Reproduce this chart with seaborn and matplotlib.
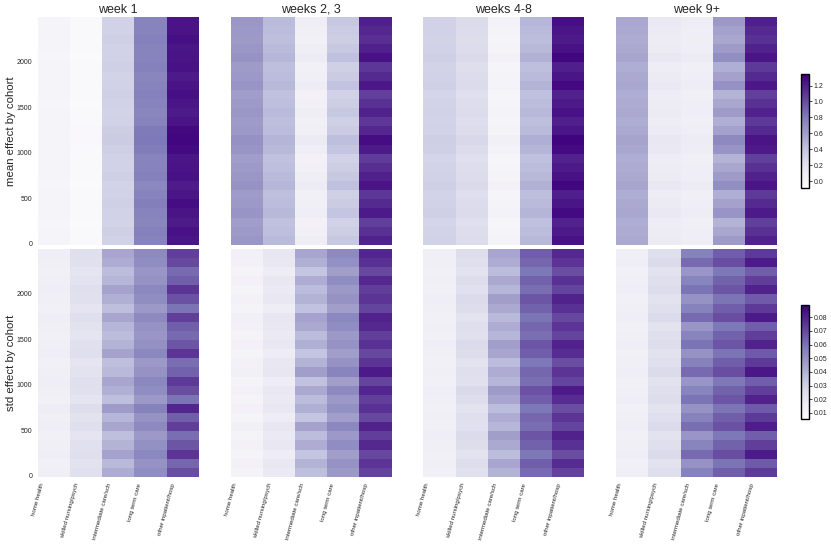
import numpy as np
import pandas as pd
import matplotlib
matplotlib.use("Agg")
import matplotlib.pyplot as plt
import seaborn as sns

# care types (heatmap columns) and time periods (panel columns)
care_types = ["home health", "skilled nursing/psych", "intermediate care/sch",
              "long term care", "other inpatient/hosp"]
periods = ["week 1", "weeks 2, 3", "weeks 4-8", "week 9+"]
cohort_step = 100  # each row of values covers 100 cohorts, listed bottom -> top
y_ticks = [0, 500, 1000, 1500, 2000]

# mean effect by cohort, in hundredths (one list per care type)
mean_week1 = [
    [0, 0, -1, 0, 0, 0, -1, 0, 0, 0, 0, 1, 1, 0, 0, -1, 0, 0, 0, 0, -1, 0, 0, 0, 1],
    [-5, -5, -6, -5, -5, -5, -6, -5, -5, -5, -5, -4, -4, -5, -5, -6, -5, -5, -5, -5, -6, -5, -5, -5, -5],
    [32, 33, 31, 32, 33, 32, 31, 33, 32, 32, 34, 36, 35, 32, 31, 32, 33, 32, 31, 33, 32, 32, 33, 32, 32],
    [76, 78, 75, 77, 79, 76, 74, 78, 77, 76, 80, 82, 81, 77, 75, 76, 78, 77, 75, 78, 77, 76, 78, 77, 77],
    [124, 126, 122, 125, 128, 124, 121, 126, 125, 124, 129, 131, 130, 125, 122, 124, 127, 125, 122, 126, 125, 124, 127, 125, 125],
]
mean_weeks23 = [
    [65, 63, 61, 66, 64, 62, 67, 65, 63, 61, 66, 68, 64, 62, 65, 63, 61, 66, 64, 62, 67, 65, 63, 64, 65],
    [46, 44, 42, 47, 45, 43, 48, 46, 44, 42, 47, 49, 45, 43, 46, 44, 42, 47, 45, 43, 48, 46, 44, 45, 46],
    [8, 6, 4, 9, 7, 5, 11, 8, 6, 4, 9, 12, 7, 5, 8, 6, 4, 10, 7, 5, 11, 8, 6, 7, 9],
    [38, 35, 32, 40, 36, 33, 42, 38, 35, 32, 40, 43, 36, 33, 38, 35, 32, 41, 36, 33, 42, 38, 35, 36, 39],
    [118, 112, 106, 122, 115, 109, 125, 119, 113, 107, 122, 128, 116, 109, 118, 112, 106, 123, 115, 109, 126, 119, 113, 116, 120],
]
mean_weeks48 = [
    [32, 31, 30, 33, 32, 31, 33, 32, 31, 30, 33, 34, 32, 31, 32, 31, 30, 33, 32, 31, 33, 32, 31, 32, 32],
    [25, 24, 22, 26, 25, 23, 27, 25, 24, 22, 26, 28, 25, 23, 25, 24, 22, 26, 25, 23, 27, 25, 24, 25, 26],
    [2, 1, -1, 3, 2, 0, 4, 2, 1, -1, 3, 5, 2, 0, 2, 1, -1, 3, 2, 0, 4, 2, 1, 2, 3],
    [47, 45, 42, 49, 46, 43, 51, 47, 45, 42, 49, 52, 46, 43, 47, 45, 42, 50, 46, 43, 51, 47, 45, 46, 48],
    [126, 122, 118, 129, 124, 120, 131, 126, 122, 118, 129, 132, 124, 120, 126, 122, 118, 130, 124, 120, 131, 126, 122, 124, 127],
]
mean_week9 = [
    [55, 54, 53, 56, 55, 53, 57, 55, 54, 53, 56, 58, 55, 53, 55, 54, 53, 56, 55, 53, 57, 55, 54, 55, 56],
    [12, 11, 10, 13, 12, 10, 14, 12, 11, 10, 13, 14, 12, 10, 12, 11, 10, 13, 12, 10, 14, 12, 11, 12, 13],
    [9, 8, 7, 10, 9, 7, 11, 9, 8, 7, 10, 11, 9, 7, 9, 8, 7, 10, 9, 7, 11, 9, 8, 9, 10],
    [62, 56, 50, 66, 59, 52, 70, 62, 56, 50, 66, 72, 59, 52, 62, 56, 50, 68, 59, 52, 70, 62, 56, 59, 64],
    [118, 112, 105, 122, 115, 108, 124, 118, 112, 105, 122, 125, 115, 108, 118, 112, 105, 123, 115, 108, 124, 118, 112, 115, 120],
]

# std effect by cohort, in thousandths
std_week1 = [
    [15, 14, 16, 15, 14, 16, 15, 17, 14, 15, 16, 15, 14, 16, 15, 14, 15, 16, 14, 15, 16, 15, 14, 15, 16],
    [23, 22, 24, 23, 21, 24, 22, 25, 21, 23, 24, 22, 21, 24, 23, 21, 22, 24, 21, 23, 24, 22, 21, 23, 24],
    [42, 38, 45, 40, 36, 44, 39, 47, 36, 41, 44, 38, 36, 45, 40, 37, 39, 44, 36, 41, 45, 39, 37, 42, 44],
    [52, 50, 54, 51, 48, 53, 50, 56, 48, 52, 54, 50, 48, 54, 51, 49, 50, 53, 48, 52, 54, 50, 49, 52, 53],
    [69, 63, 75, 67, 61, 73, 65, 79, 60, 69, 74, 64, 61, 75, 67, 62, 65, 73, 60, 68, 75, 65, 62, 70, 73],
]
std_weeks23 = [
    [12, 13, 12, 13, 12, 14, 12, 13, 12, 13, 12, 14, 13, 12, 13, 12, 13, 14, 12, 13, 12, 13, 12, 13, 14],
    [18, 19, 17, 19, 18, 20, 17, 19, 18, 19, 17, 20, 19, 17, 19, 18, 19, 20, 17, 19, 18, 19, 17, 19, 20],
    [36, 40, 34, 42, 37, 45, 34, 41, 37, 43, 35, 46, 40, 34, 41, 37, 43, 45, 35, 40, 37, 42, 34, 41, 44],
    [48, 50, 46, 52, 48, 54, 46, 51, 48, 53, 46, 55, 50, 46, 50, 48, 52, 54, 46, 50, 48, 52, 46, 51, 53],
    [72, 75, 70, 78, 73, 80, 70, 76, 73, 79, 71, 82, 75, 70, 76, 73, 78, 80, 71, 75, 73, 78, 70, 76, 79],
]
std_weeks48 = [
    [14, 15, 14, 15, 16, 14, 15, 14, 15, 16, 14, 15, 14, 15, 16, 14, 15, 14, 15, 16, 14, 15, 14, 15, 15],
    [23, 25, 22, 25, 26, 23, 24, 22, 25, 27, 23, 24, 22, 25, 26, 23, 24, 22, 25, 26, 23, 25, 22, 24, 25],
    [40, 44, 37, 43, 46, 39, 42, 37, 44, 47, 39, 42, 37, 44, 46, 39, 42, 38, 43, 46, 39, 43, 37, 42, 44],
    [62, 65, 59, 64, 67, 61, 63, 59, 65, 68, 61, 63, 59, 65, 67, 61, 63, 60, 64, 67, 61, 64, 59, 63, 65],
    [72, 77, 69, 76, 80, 71, 75, 69, 77, 82, 71, 75, 69, 77, 80, 71, 75, 70, 76, 80, 71, 76, 69, 75, 78],
]
std_week9 = [
    [15, 14, 16, 15, 14, 16, 15, 14, 16, 15, 14, 16, 15, 14, 16, 15, 14, 16, 15, 14, 16, 15, 14, 16, 15],
    [24, 22, 26, 24, 22, 26, 24, 22, 25, 24, 22, 26, 24, 22, 25, 24, 22, 26, 24, 22, 25, 24, 22, 26, 24],
    [56, 50, 62, 55, 49, 61, 56, 50, 60, 55, 49, 62, 56, 50, 60, 55, 49, 62, 56, 50, 60, 55, 49, 62, 56],
    [65, 60, 69, 64, 59, 68, 65, 60, 67, 64, 59, 69, 65, 60, 67, 64, 59, 69, 65, 60, 67, 64, 59, 69, 65],
    [74, 66, 82, 73, 65, 81, 74, 66, 80, 73, 65, 83, 74, 66, 80, 73, 65, 82, 74, 66, 80, 73, 65, 82, 74],
]

sns.set_style("white")
plt.rcParams['font.family'] = ['Liberation Sans', 'DejaVu Sans']

fig = plt.figure(figsize=(8.31, 5.46), dpi=100)

lefts = [0.0455, 0.2776, 0.5094, 0.7416]
width = 0.1937
bottoms = [0.5513, 0.1264]
height = 0.418

rows = [
    ([mean_week1, mean_weeks23, mean_weeks48, mean_week9], 100.0, -0.09, 1.34,
     [0.0, 0.2, 0.4, 0.6, 0.8, 1.0, 1.2], "mean effect by cohort", 0.655),
    ([std_week1, std_weeks23, std_weeks48, std_week9], 1000.0, 0.0056, 0.089,
     [0.01, 0.02, 0.03, 0.04, 0.05, 0.06, 0.07, 0.08], "std effect by cohort", 0.2326),
]

for r, (panels, scale, vmin, vmax, cticks, ylabel, cb_bottom) in enumerate(rows):
    cax = fig.add_axes([0.9635, cb_bottom, 0.0096, 0.2088])
    for c, vals in enumerate(panels):
        ax = fig.add_axes([lefts[c], bottoms[r], width, height])
        n = len(vals[0])
        df = pd.DataFrame(np.array(vals).T / scale, columns=care_types,
                          index=np.arange(n) * cohort_step)
        if c == 0:
            sns.heatmap(df, ax=ax, cmap="Purples", vmin=vmin, vmax=vmax,
                        cbar_ax=cax, cbar_kws={'ticks': cticks})
            cb = ax.collections[0].colorbar
            cb.outline.set_visible(True)
            cb.outline.set_edgecolor('black')
            cb.outline.set_linewidth(1)
        else:
            sns.heatmap(df, ax=ax, cmap="Purples", vmin=vmin, vmax=vmax, cbar=False)
        ax.set_ylim(0, n)

        if c == 0:
            ax.set_yticks(np.array(y_ticks) / cohort_step)
            ax.set_yticklabels([str(t) for t in y_ticks], rotation=0, fontsize=5)
            ax.set_ylabel(ylabel, fontsize=8.2, labelpad=0.5)
        else:
            ax.set_yticks([])
            ax.set_ylabel("")

        if r == 0:
            ax.set_xticks([])
            ax.set_title(periods[c], fontsize=9, pad=3)
        else:
            ax.set_xticks(np.arange(len(care_types)))
            ax.set_xticklabels(care_types, rotation=75, fontsize=4.4)
        ax.tick_params(length=0, pad=4)

    cax.tick_params(right=True, length=2, width=0.6, labelsize=5, pad=1.5)

fig.savefig("out.png", dpi=100)
